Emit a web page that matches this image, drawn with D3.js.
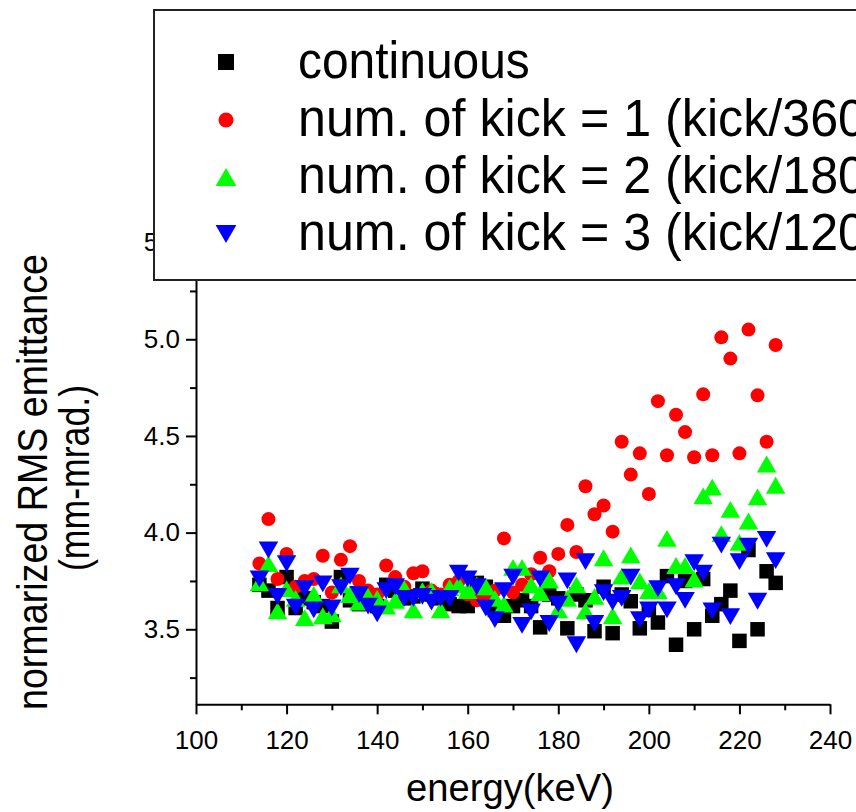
<!DOCTYPE html>
<html><head><meta charset="utf-8">
<script src="https://cdn.jsdelivr.net/npm/d3@7"></script>
<style>body{margin:0;background:#fff} svg{display:block}</style>
</head><body>
<svg id="c" width="856" height="812"></svg>
<script>
const energy = [114,116,118,120,122,124,126,128,130,132,134,136,138,140,142,144,146,148,150,152,154,156,158,160,162,164,166,168,170,172,174,176,178,180,182,184,186,188,190,192,194,196,198,200,202,204,206,208,210,212,214,216,218,220,222,224,226,228];
const continuous = [3.73,3.70,3.61,3.77,3.61,3.66,3.64,3.62,3.54,3.77,
  3.65,3.63,3.66,3.62,3.73,3.70,3.66,3.67,3.71,3.68,
  3.66,3.63,3.62,3.62,3.74,3.72,3.60,3.57,3.62,3.65,
  3.62,3.51,3.68,3.66,3.505,3.68,3.65,3.49,3.72,3.48,
  3.68,3.645,3.505,3.60,3.535,3.775,3.42,3.75,3.50,3.76,
  3.57,3.63,3.70,3.44,3.91,3.50,3.80,3.74];
const kick1 = [3.84,4.07,3.76,3.89,3.72,3.75,3.76,3.88,3.69,3.86,
  3.93,3.75,3.70,3.68,3.83,3.77,3.72,3.79,3.80,3.70,
  3.68,3.73,3.75,3.68,3.65,3.66,3.70,3.97,3.69,3.73,
  3.785,3.87,3.80,3.89,4.04,3.90,4.24,4.095,4.14,4.005,
  4.47,4.30,4.41,4.20,4.68,4.40,4.61,4.52,4.39,4.715,
  4.40,5.01,4.90,4.41,5.05,4.71,4.47,4.97];
const kick2 = [3.74,3.84,3.595,3.71,3.66,3.56,3.68,3.57,3.58,3.73,
  3.68,3.64,3.67,3.66,3.62,3.65,3.71,3.60,3.70,3.70,
  3.60,3.715,3.73,3.70,3.73,3.72,3.66,3.63,3.82,3.82,
  3.73,3.69,3.755,3.60,3.66,3.73,3.595,3.67,3.87,3.57,
  3.775,3.885,3.75,3.70,3.70,3.97,3.83,3.83,3.76,4.19,
  4.235,3.995,4.12,3.95,4.06,4.185,4.355,4.245];
const kick3 = [3.76,3.91,3.67,3.84,3.615,3.71,3.60,3.735,3.61,3.715,
  3.775,3.68,3.62,3.58,3.70,3.72,3.66,3.66,3.67,3.64,
  3.66,3.66,3.79,3.76,3.72,3.61,3.55,3.70,3.77,3.52,
  3.59,3.76,3.53,3.63,3.75,3.42,3.85,3.53,3.69,3.64,
  3.66,3.77,3.55,3.60,3.71,3.60,3.72,3.65,3.845,3.79,
  3.595,3.935,3.565,3.85,3.93,3.645,3.965,3.855];
const xTicks = [100,120,140,160,180,200,220,240];
const xMinorTicks = [110,130,150,170,190,210,230];
const yTicks = [3.5,4.0,4.5,5.0,5.5];
const yMinorTicks = [3.25,3.75,4.25,4.75,5.25,5.75];
const seriesNames = ["continuous","num. of kick = 1 (kick/360\u00B0)","num. of kick = 2 (kick/180\u00B0)","num. of kick = 3 (kick/120\u00B0)"];
const seriesColors = ["#000000","#ff0000","#00ff00","#0000ff"];
const seriesShapes = ["square","circle","up","down"];
const seriesData = [continuous, kick1, kick2, kick3];

const font = "'Liberation Sans', Arial, Helvetica, sans-serif";
const svg = d3.select("#c");
const x = d3.scaleLinear().domain([100,240]).range([196,830]);
const y = d3.scaleLinear().domain([3.112,5.8]).range([704.3,184.6]);

function shapePath(shape, s) {
  if (shape === "square") { const h = s/2; return `M${-h},${-h}h${s}v${s}h${-s}Z`; }
  if (shape === "circle") { const r = s/2; return `M${r},0A${r},${r} 0 1,1 ${-r},0A${r},${r} 0 1,1 ${r},0Z`; }
  const w = s*1.3/2, h = s*1.12/2;
  if (shape === "up") return `M0,${-h}L${w},${h}L${-w},${h}Z`;
  return `M0,${h}L${w},${-h}L${-w},${-h}Z`;
}
const plotSizes = {square:14.5, circle:14, up:15, down:15};

// axes
svg.append("g").attr("transform",`translate(0,${y.range()[0]})`)
  .call(d3.axisBottom(x).tickValues(xTicks).tickSize(10).tickSizeOuter(0).tickPadding(16).tickFormat(d3.format("d")));
svg.append("g").attr("transform",`translate(0,${y.range()[0]})`)
  .call(d3.axisBottom(x).tickValues(xMinorTicks).tickSize(6).tickSizeOuter(0).tickFormat(""))
  .select(".domain").remove();
svg.append("g").attr("transform",`translate(${x.range()[0]},0)`)
  .call(d3.axisLeft(y).tickValues(yTicks).tickSize(10).tickSizeOuter(0).tickPadding(6).tickFormat(d3.format(".1f")));
svg.append("g").attr("transform",`translate(${x.range()[0]},0)`)
  .call(d3.axisLeft(y).tickValues(yMinorTicks).tickSize(6).tickSizeOuter(0).tickFormat(""))
  .select(".domain").remove();
svg.selectAll(".domain, .tick line").attr("stroke","#000").attr("stroke-width",2);
svg.selectAll(".tick text").attr("font-family",font).attr("font-size",26).attr("fill","#000");

// data
seriesData.forEach((vals, k) => {
  const shape = seriesShapes[k];
  svg.append("g").selectAll("path")
    .data(energy.map((e,i) => ({e, v: vals[i]})))
    .join("path")
    .attr("transform", d => `translate(${x(d.e)},${y(d.v)})`)
    .attr("d", shapePath(shape, plotSizes[shape]))
    .attr("fill", seriesColors[k]);
});

// axis titles
svg.append("text").attr("x", (x.range()[0]+x.range()[1])/2 - 3).attr("y", 801)
  .attr("text-anchor","middle").attr("font-family",font).attr("font-size",38)
  .attr("textLength",208).attr("lengthAdjust","spacingAndGlyphs")
  .text("energy(keV)");
const yt = svg.append("g").attr("transform","translate(0,482) rotate(-90)");
yt.append("text").attr("x",0).attr("y",47).attr("text-anchor","middle")
  .attr("font-family",font).attr("font-size",43)
  .attr("textLength",456).attr("lengthAdjust","spacingAndGlyphs")
  .text("normarized RMS emittance");
yt.append("text").attr("x",4).attr("y",89).attr("text-anchor","middle")
  .attr("font-family",font).attr("font-size",43)
  .attr("textLength",186).attr("lengthAdjust","spacingAndGlyphs")
  .text("(mm-mrad.)");

// legend
const lg = svg.append("g");
lg.append("rect").attr("x",154).attr("y",10).attr("width",760).attr("height",270)
  .attr("fill","#fff").attr("stroke","#222").attr("stroke-width",2);
const legendBase = [78,136,193,250];
const legendScale = [0.94,0.985,0.985,0.985];
const legendSizes = {square:16, circle:15, up:16, down:16};
seriesNames.forEach((name, k) => {
  const shape = seriesShapes[k];
  lg.append("path").attr("transform",`translate(226,${legendBase[k]-16})`)
    .attr("d", shapePath(shape, legendSizes[shape])).attr("fill", seriesColors[k]);
  lg.append("text").attr("transform",`translate(298,${legendBase[k]}) scale(${legendScale[k]},1)`)
    .attr("font-family",font).attr("font-size",51).attr("fill","#000").text(name);
});
</script>
</body></html>
